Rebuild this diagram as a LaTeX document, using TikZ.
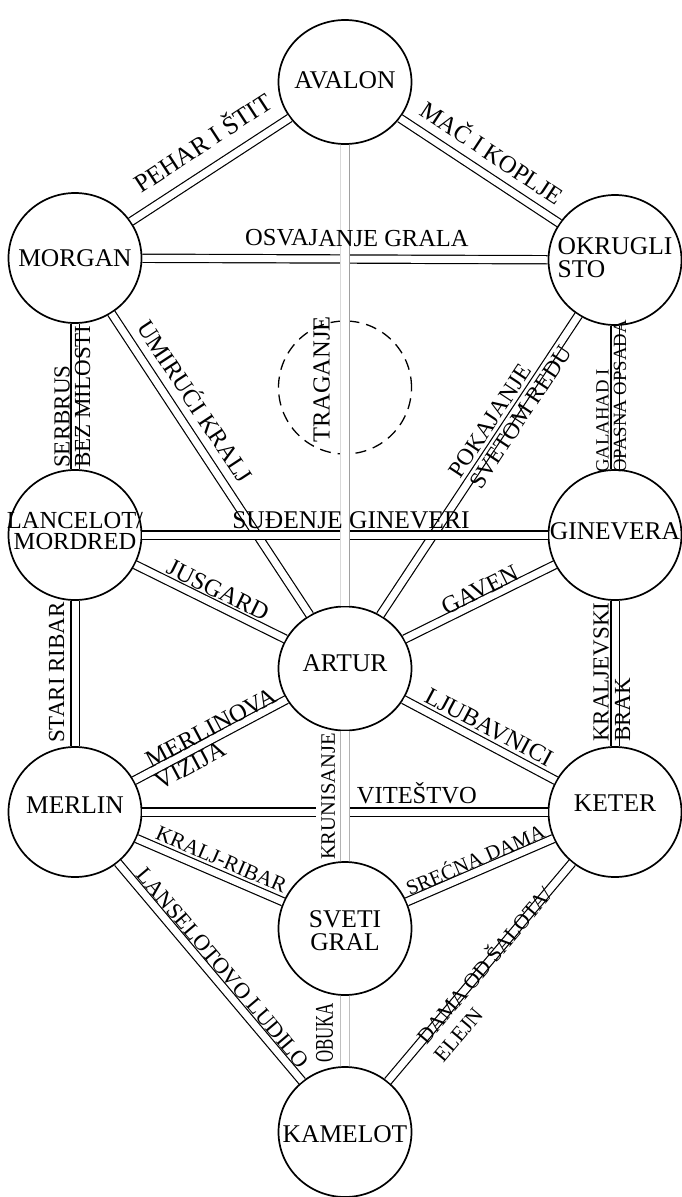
\documentclass[tikz,border=0pt]{standalone}
\usepackage{fontspec}
\usepackage{graphicx}
\setmainfont{Liberation Serif}
\usetikzlibrary{shapes.geometric,calc}
\newcommand{\fnNode}{\fontsize{25.5}{23}\selectfont}
\newcommand{\fnLanc}{\fontsize{24.5}{20.5}\selectfont}
\newcommand{\fnEdge}{\fontsize{24.5}{23}\selectfont}
\newcommand{\fnEdgeL}{\fontsize{25.5}{23}\selectfont}
\newcommand{\fnEdgeM}{\fontsize{23.5}{22}\selectfont}
\newcommand{\fnEdgeLud}{\fontsize{22.5}{21}\selectfont}
\newcommand{\fnEdgeS}{\fontsize{21.5}{20}\selectfont}
\newcommand{\fnEdgeXS}{\fontsize{20.5}{20}\selectfont}
\newcommand{\fnVert}{\fontsize{23}{21}\selectfont}
\newcommand{\fnTrag}{\fontsize{24.5}{22}\selectfont}
\newcommand{\fnKrun}{\fontsize{20.5}{20}\selectfont}
\newcommand{\fnSmall}{\fontsize{18.7}{18}\selectfont}
\begin{document}
\begin{tikzpicture}[x=1pt,y=-1pt,
  sph/.style={draw, line width=1.7pt, ellipse, minimum width=133pt, minimum height=130pt, inner sep=0pt, fill=white},
  dashcirc/.style={draw, line width=1.3pt, dash pattern=on 11pt off 7pt, circle, minimum size=133pt, inner sep=0pt},
  ntext/.style={font=\fnNode, inner sep=0pt},
  dbl/.style={draw=black, line width=1.2pt, double=white, double distance=7pt},
  cdbl/.style={line width=0.9pt, double=white, double distance=7.5pt},
  elab/.style={font=\fnEdge, inner sep=0pt, text height=16.2pt, text depth=0pt, anchor=center, sloped},
  vlab/.style={inner sep=0pt, text depth=0pt, rotate=90, anchor=west},
]
\fill[white] (0,0) rectangle (681,1197);
\useasboundingbox (0,0) rectangle (681,1197);

% spheres
\node[sph, minimum height=124pt] (avalon) at (345,82) {};
\node[sph] (morgan) at (75,258) {};
\node[sph] (okrugli) at (615,260) {};
\node[sph] (lancelot) at (75,535) {};
\node[sph] (ginevera) at (615,535) {};
\node[sph, minimum height=124pt] (artur) at (345,668.5) {};
\node[sph] (merlin) at (75,812) {};
\node[sph] (keter) at (615,812) {};
\node[sph, minimum height=133pt] (sveti) at (345,928.5) {};
\node[sph] (kamelot) at (345,1132) {};
\node[dashcirc] (traganje) at (345,387.5) {};

% diagonal paths
\draw[dbl] (morgan) -- (avalon);
\draw[dbl] (avalon) -- (okrugli);
\draw[dbl] (morgan) -- (artur);
\draw[dbl] (okrugli) -- (artur);
\draw[dbl] (lancelot) -- (artur);
\draw[dbl] (ginevera) -- (artur);
\draw[dbl] (merlin) -- (artur);
\draw[dbl] (keter) -- (artur);
\draw[dbl] (merlin) -- (sveti);
\draw[dbl] (keter) -- (sveti);
\draw[dbl] (merlin) -- (kamelot);
\draw[dbl] (keter) -- (kamelot);
% horizontal paths
\draw[dbl] (morgan) -- (okrugli);
\draw[dbl] (lancelot) -- (ginevera);
\draw[dbl] (merlin) -- (keter);
% side vertical paths
\draw[dbl] (morgan) -- (lancelot);
\draw[dbl] (lancelot) -- (merlin);
\draw[dbl] (okrugli) -- (ginevera);
\draw[dbl] (ginevera) -- (keter);

% label with white ground over the horizontal path
\node[vlab, font=\fnKrun, text height=13.6pt, fill=white, inner ysep=5pt] (lKrun) at (328,860) {KRUNISANJE};

% central vertical paths
\draw[cdbl, draw=gray!30] (avalon) -- (artur);
\draw[gray!75, line width=0.9pt] ([xshift=4.2pt]avalon.south) -- ([xshift=4.2pt]artur.north);
\draw[cdbl, draw=gray!60] (artur) -- (sveti);
\draw[cdbl, draw=gray!50] (sveti) -- (kamelot);

% sphere texts
\node[ntext] (tAvalon) at (345,80) {AVALON};
\node[ntext] (tMorgan) at (75,258) {MORGAN};
\node[ntext, align=left] (tOkrugli) at (615,258) {OKRUGLI\\STO};
\node[ntext, align=center, font=\fnLanc] (tLancelot) at (75,531) {LANCELOT/\\MORDRED};
\node[ntext] (tGinevera) at (615,531.5) {GINEVERA};
\node[ntext] (tArtur) at (345,663) {ARTUR};
\node[ntext] (tMerlin) at (75,805) {MERLIN};
\node[ntext] (tKeter) at (615,803.5) {KETER};
\node[ntext, align=center] (tSveti) at (345,930.5) {SVETI\\GRAL};
\node[ntext] (tKamelot) at (345,1134) {KAMELOT};

% path labels
\path (morgan.center) -- (avalon.center) node[elab, font=\fnEdgeL, text height=16.9pt, pos=0.527, yshift=26pt] (lPehar) {PEHAR I ŠTIT};
\path (avalon.center) -- (okrugli.center) node[elab, pos=0.5, yshift=21pt] (lMac) {MAČ I KOPLJE};
\path (morgan.center) -- (okrugli.center) node[elab, pos=0.522, yshift=21pt] (lOsv) {OSVAJANJE GRALA};
\path (morgan.center) -- (artur.center) node[elab, pos=0.378, yshift=21pt] (lUmir) {UMIRUĆI KRALJ};
\path (artur.center) -- (okrugli.center) node[elab, font=\fnEdgeM, text height=15.6pt, pos=0.585, yshift=15.4pt] (lPok) {POKAJANJE};
\path (artur.center) -- (okrugli.center) node[elab, font=\fnEdgeM, text height=15.6pt, pos=0.626, yshift=-8pt] (lSvetom) {SVETOM REDU};
\path (lancelot.center) -- (ginevera.center) node[elab, font=\fnEdgeL, text height=16.9pt, pos=0.511, yshift=15pt] (lSud) {SUĐENJE GINEVERI};
\path (lancelot.center) -- (artur.center) node[elab, pos=0.507, yshift=14pt] (lJus) {JUSGARD};
\path (artur.center) -- (ginevera.center) node[elab, pos=0.517, yshift=11pt] (lGaven) {GAVEN};
\path (merlin.center) -- (artur.center) node[elab, pos=0.521, yshift=10.7pt] (lMerl) {MERLINOVA};
\path (merlin.center) -- (artur.center) node[elab, pos=0.404, yshift=-12.7pt] (lViz) {VIZIJA};
\path (artur.center) -- (keter.center) node[elab, pos=0.506, yshift=16pt] (lLjub) {LJUBAVNICI};
\path (merlin.center) -- (keter.center) node[elab, pos=0.633, yshift=16.5pt] (lVit) {VITEŠTVO};
\path (merlin.center) -- (sveti.center) node[elab, font=\fnEdgeS, text height=14.2pt, pos=0.521, yshift=14.5pt] (lKRib) {KRALJ-RIBAR};
\path (sveti.center) -- (keter.center) node[elab, font=\fnEdgeXS, text height=13.6pt, pos=0.499, yshift=11pt] (lSrec) {SREĆNA DAMA};
\path (merlin.center) -- (kamelot.center) node[elab, font=\fnEdgeLud, text height=14.9pt, pos=0.513, yshift=12.5pt] (lLud) {LANSELOTOVO LUDILO};
\path (kamelot.center) -- (keter.center) node[elab, font=\fnEdgeS, text height=14.2pt, pos=0.518, yshift=0.5pt] (lDama) {DAMA OD ŠALOTA/};
\path (kamelot.center) -- (keter.center) node[elab, font=\fnEdgeS, text height=14.2pt, pos=0.352, yshift=-24pt] (lElejn) {ELEJN};

% vertical labels
\node[vlab, font=\fnTrag, text height=16.2pt] (lTrag) at (321.5,443) {TRAGANJE};
\node[vlab, font=\fnVert, text height=15.2pt] (lSerbrus) at (62,468) {SERBRUS};
\node[vlab, font=\fnVert, text height=15.2pt] (lBez) at (82.5,468) {BEZ MILOSTI};
\node[vlab, font=\fnSmall, text height=12.4pt] (lGalahad) at (602.5,473) {GALAHAD I};
\node[vlab, font=\fnSmall, text height=12.4pt] (lOpasna) at (620,473) {OPASNA OPSADA};
\node[vlab, font=\fnVert, text height=15.2pt] (lStari) at (56.5,743) {STARI RIBAR};
\node[vlab, font=\fnVert, text height=15.2pt] (lKraljev) at (601,742) {KRALJEVSKI};
\node[vlab, font=\fnVert, text height=15.2pt] (lBrak) at (622.5,742) {BRAK};
\node[vlab, font=\fnNode, text height=16.9pt] (lObuka) at (324.5,1063) {\scalebox{0.66}[1]{OBUKA}};
\end{tikzpicture}
\end{document}
